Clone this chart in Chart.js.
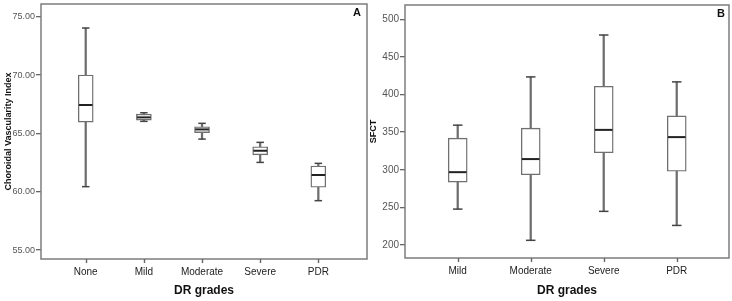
<!DOCTYPE html>
<html lang="en">
<head>
<meta charset="UTF-8" />
<title>CVI and SFCT by DR grade</title>
<script src="https://cdn.jsdelivr.net/npm/chart.js"></script>
<style>
  body { margin: 0; background: #fff; }
  #wrap { position: relative; width: 732px; height: 301px; }
  canvas { position: absolute; top: 0; }
  #chartA { left: 0; }
  #chartB { left: 366px; }
</style>
</head>
<body>
<div id="wrap">
  <canvas id="chartA" width="370" height="301"></canvas>
  <canvas id="chartB" width="366" height="301"></canvas>
</div>
<script>
  // panel A - choroidal vascularity index
  const gradesA = ['None', 'Mild', 'Moderate', 'Severe', 'PDR'];
  const cviMin    = [60.43, 66.03, 64.51, 62.51, 59.23];
  const cviQ1     = [65.97, 66.14, 65.06, 63.16, 60.38];
  const cviMedian = [67.43, 66.37, 65.34, 63.51, 61.43];
  const cviQ3     = [70.00, 66.65, 65.57, 63.85, 62.20];
  const cviMax    = [74.03, 66.77, 65.86, 64.23, 62.43];
  const cviTicks  = [55, 60, 65, 70, 75];

  // panel B - subfoveal choroidal thickness
  const gradesB = ['Mild', 'Moderate', 'Severe', 'PDR'];
  const sfctMin    = [247.7, 206.2, 244.7, 226.0];
  const sfctQ1     = [283.5, 293.4, 322.6, 298.0];
  const sfctMedian = [296.8, 314.2, 353.0, 343.4];
  const sfctQ3     = [342.0, 355.3, 411.0, 371.7];
  const sfctMax    = [359.3, 423.4, 479.1, 416.8];
  const sfctTicks  = [200, 250, 300, 350, 400, 450, 500];

  const FONT = "'Liberation Sans', Arial, sans-serif";

  // frame round the plot area, x tick marks and the panel letter
  const framePlugin = {
    id: 'frame',
    beforeDatasetsDraw(chart) {
      const { ctx, chartArea: a } = chart;
      const x = chart.scales.x;
      ctx.save();
      ctx.strokeStyle = '#7d7d7d';
      ctx.lineWidth = 1.5;
      ctx.strokeRect(a.left, a.top, a.right - a.left, a.bottom - a.top);
      ctx.strokeStyle = '#666';
      ctx.lineWidth = 1.4;
      ctx.beginPath();
      x.ticks.forEach(t => {
        const px = Math.round(x.getPixelForValue(t.value)) + 0.5;
        ctx.moveTo(px, a.bottom);
        ctx.lineTo(px, a.bottom + 4);
      });
      ctx.stroke();
      ctx.restore();
    },
    afterDraw(chart, args, opts) {
      const { ctx, chartArea: a } = chart;
      ctx.save();
      ctx.fillStyle = '#111';
      ctx.font = 'bold 11px ' + FONT;
      ctx.textAlign = 'right';
      ctx.fillText(opts.letter, a.right - opts.inset, a.top + 12);
      ctx.restore();
    }
  };

  function boxChart(id, o) {
    const pts = arr => arr.map((v, i) => ({ x: i, y: v }));
    const range = (lo, hi) => lo.map((v, i) => ({ x: i, y: [v, hi[i]] }));

    return new Chart(document.getElementById(id), {
      type: 'bar',
      data: {
        datasets: [
          { // whisker stems
            data: range(o.min, o.max),
            backgroundColor: '#6e6e6e',
            borderWidth: 0,
            barThickness: 1.6,
            grouped: false,
            order: 3
          },
          { // boxes
            data: range(o.q1, o.q3),
            backgroundColor: '#fff',
            borderColor: '#707070',
            borderWidth: 1.4,
            borderSkipped: false,
            barThickness: o.boxWidth,
            grouped: false,
            order: 2
          },
          { // caps
            type: 'scatter',
            data: pts(o.min).concat(pts(o.max)),
            pointStyle: 'line',
            pointRadius: o.boxWidth / 4,
            borderColor: '#444',
            borderWidth: 1.5,
            order: 1
          },
          { // medians
            type: 'scatter',
            data: pts(o.median),
            pointStyle: 'line',
            pointRadius: o.boxWidth / 2 - 0.7,
            borderColor: '#222',
            borderWidth: 2,
            order: 0
          }
        ]
      },
      options: {
        responsive: false,
        animation: false,
        events: [],
        layout: {
          autoPadding: false,
          padding: { top: o.top, right: 3, left: 0, bottom: 0 }
        },
        plugins: {
          legend: { display: false },
          tooltip: { enabled: false },
          frame: { letter: o.letter, inset: o.inset }
        },
        scales: {
          x: {
            type: 'linear',
            min: o.xMin,
            max: o.xMax,
            offset: false,
            afterBuildTicks: s => { s.ticks = o.grades.map((g, i) => ({ value: i })); },
            afterFit: s => {
              s.height = o.xHeight;
              s.paddingLeft = 0;
              s.paddingRight = 0;
            },
            ticks: {
              callback: v => o.grades[v],
              font: { family: FONT, size: 10 },
              color: '#222',
              padding: 3,
              autoSkip: false,
              maxRotation: 0
            },
            grid: { display: false, tickLength: 4 },
            border: { display: false },
            title: {
              display: true,
              text: 'DR grades',
              font: { family: FONT, size: 12, weight: 'bold' },
              color: '#111',
              padding: 3
            }
          },
          y: {
            min: o.yMin,
            max: o.yMax,
            afterBuildTicks: s => { s.ticks = o.yTicks.map(v => ({ value: v })); },
            afterFit: s => {
              s.width = o.yWidth;
              s.paddingTop = 0;
              s.paddingBottom = 0;
            },
            ticks: {
              callback: o.fmt,
              font: { family: FONT, size: o.tickSize },
              color: '#555',
              padding: 1
            },
            grid: { drawOnChartArea: false, tickLength: 5, color: '#666', lineWidth: 1.3 },
            border: { display: false },
            title: {
              display: true,
              text: o.yTitle,
              font: { family: FONT, size: 9, weight: 'bold' },
              color: '#111',
              padding: o.titlePad
            }
          }
        }
      },
      plugins: [framePlugin]
    });
  }

  boxChart('chartA', {
    grades: gradesA,
    min: cviMin, q1: cviQ1, median: cviMedian, q3: cviQ3, max: cviMax,
    yTicks: cviTicks,
    yMin: 54.23, yMax: 76.09,
    xMin: -0.769, xMax: 4.837,
    fmt: v => v.toFixed(2),
    tickSize: 9,
    yTitle: 'Choroidal Vascularity Index',
    titlePad: 3,
    boxWidth: 15,
    top: 4, yWidth: 41, xHeight: 42,
    letter: 'A', inset: 6
  });

  boxChart('chartB', {
    grades: gradesB,
    min: sfctMin, q1: sfctQ1, median: sfctMedian, q3: sfctQ3, max: sfctMax,
    yTicks: sfctTicks,
    yMin: 182.7, yMax: 519,
    xMin: -0.722, xMax: 3.716,
    fmt: v => String(v),
    tickSize: 10,
    yTitle: 'SFCT',
    titlePad: 2,
    boxWidth: 19,
    top: 5, yWidth: 39, xHeight: 43,
    letter: 'B', inset: 4
  });
</script>
</body>
</html>
